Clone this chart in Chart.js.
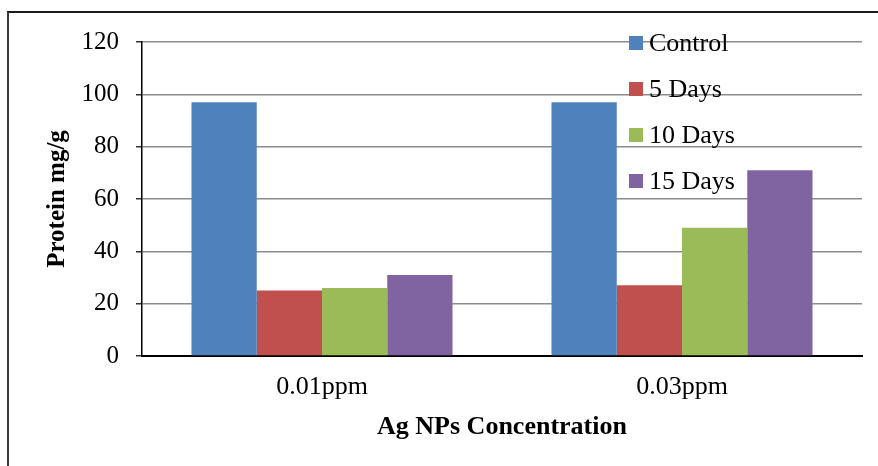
<!DOCTYPE html>
<html>
<head>
<meta charset="utf-8">
<title>Protein mg/g</title>
<script src="https://cdn.jsdelivr.net/npm/chart.js@4/dist/chart.umd.min.js"></script>
<style>
    html, body { margin: 0; padding: 0; background: #fff; }
    #wrap { position: relative; width: 878px; height: 466px; overflow: hidden; }
    #frame {
        position: absolute; left: 7px; top: 11px; width: 900px; height: 500px;
        border-left: 2px solid #3a3a3a; border-top: 2px solid #1a1a1a;
        pointer-events: none;
    }
    canvas { position: absolute; left: 0; top: 0; }
</style>
</head>
<body>
<div id="wrap">
    <canvas id="chart" width="878" height="466"></canvas>
    <div id="frame"></div>
</div>
<script>
// Data
const categories = ['0.01ppm', '0.03ppm'];
const seriesNames = ['Control', '5 Days', '10 Days', '15 Days'];
const controlValues = [97, 97];
const days5Values = [25, 27];
const days10Values = [26, 49];
const days15Values = [31, 71];
const yTicks = [0, 20, 40, 60, 80, 100, 120];

const colors = ['#4F81BD', '#C0504D', '#9BBB59', '#8064A2'];
const serif = "'Liberation Serif', 'Times New Roman', serif";

// Legend drawn inside the plot area, top right, stacked
const insideLegend = {
    id: 'insideLegend',
    afterDraw(chart) {
        const { ctx, chartArea } = chart;
        const x = chartArea.right - 233;
        let y = chartArea.top + 1;
        ctx.save();
        ctx.font = '26px ' + serif;
        ctx.textBaseline = 'middle';
        ctx.textAlign = 'left';
        chart.data.datasets.forEach(ds => {
            ctx.fillStyle = ds.backgroundColor;
            ctx.fillRect(x, y - 7, 14, 14);
            ctx.fillStyle = '#000';
            ctx.fillText(ds.label, x + 20, y + 1);
            y += 46;
        });
        ctx.restore();
    }
};

const values = [controlValues, days5Values, days10Values, days15Values];

new Chart(document.getElementById('chart'), {
    type: 'bar',
    data: {
        labels: categories,
        datasets: seriesNames.map((name, i) => ({
            label: name,
            data: values[i],
            backgroundColor: colors[i],
            borderWidth: 0,
            barPercentage: 1,
            categoryPercentage: 0.725
        }))
    },
    options: {
        responsive: false,
        animation: false,
        layout: { padding: { left: 0, right: 16, top: 42, bottom: 0 } },
        plugins: {
            legend: { display: false },
            tooltip: { enabled: false }
        },
        scales: {
            y: {
                min: 0,
                max: 120,
                afterFit: s => { s.width = 142; },
                afterBuildTicks: s => { s.ticks = yTicks.map(v => ({ value: v })); },
                ticks: {
                    color: '#000',
                    padding: 17,
                    font: { family: serif, size: 25 }
                },
                grid: {
                    color: ctx => ctx.tick && ctx.tick.value === 0 ? 'rgba(0,0,0,0)' : '#8c8c8c',
                    lineWidth: 1.5,
                    tickColor: '#333',
                    tickLength: 6
                },
                border: { color: '#000', width: 1.5 },
                title: {
                    display: true,
                    text: 'Protein mg/g',
                    color: '#000',
                    padding: { top: 43, bottom: 0 },
                    font: { family: serif, size: 25, weight: 'bold' }
                }
            },
            x: {
                afterFit: s => { s.height = 110; },
                ticks: {
                    color: '#000',
                    padding: 16,
                    font: { family: serif, size: 26 }
                },
                grid: { display: false, drawTicks: false },
                border: { color: '#000', width: 2 },
                title: {
                    display: true,
                    text: 'Ag NPs Concentration',
                    color: '#000',
                    padding: { top: 0, bottom: 23 },
                    font: { family: serif, size: 26, weight: 'bold' }
                }
            }
        }
    },
    plugins: [insideLegend]
});
</script>
</body>
</html>
